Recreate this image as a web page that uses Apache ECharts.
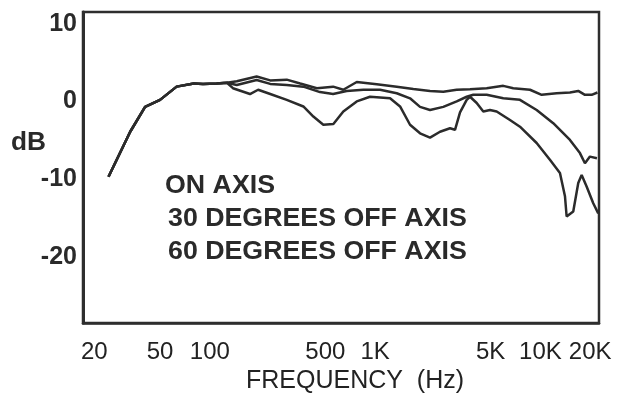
<!DOCTYPE html>
<html>
<head>
<meta charset="utf-8">
<script src="https://cdn.jsdelivr.net/npm/echarts@6/dist/echarts.min.js"></script>
<style>
html,body{margin:0;padding:0;background:#fff;}
#chart{width:633px;height:398px;}
</style>
</head>
<body>
<div id="chart"></div>
<script>
// Shared low-frequency part (all three curves coincide)
var commonFreq = [24.4, 33, 40.6, 50, 63, 80, 91, 110, 127];
var commonDb   = [-9.7, -3.9, -0.7, 0.2, 1.9, 2.3, 2.25, 2.3, 2.4];

// ON AXIS
var onFreq = [145.6, 192, 232, 292, 352, 444, 557, 642, 774, 1023, 1351, 1702, 2148, 2584, 3114, 3749, 4728, 5960, 6849, 8644, 10170, 12530, 15080, 16930, 18580, 20400, 22120];
var onDb   = [2.6, 3.2, 2.7, 2.8, 2.3, 1.7, 1.9, 1.5, 2.5, 2.2, 1.9, 1.6, 1.35, 1.25, 1.5, 1.55, 1.7, 2.0, 1.7, 1.5, 0.85, 1.05, 1.15, 1.35, 0.85, 0.85, 1.15];

// 30 DEGREES OFF AXIS
var off30Freq = [145.6, 192, 232, 292, 368, 464, 557, 673, 849, 1071, 1351, 1626, 1869, 2148, 2584, 3114, 3579, 3924, 4728, 5960, 7516, 9484, 11950, 15080, 17330, 18580, 19920, 21960];
var off30Db   = [2.1, 2.75, 2.25, 2.1, 1.9, 1.2, 0.95, 1.35, 1.5, 1.5, 1.05, 0.4, -0.7, -1.1, -0.7, 0, 0.6, 0.85, 0.85, 0.4, 0.2, -1.1, -2.8, -4.95, -6.65, -7.95, -7.1, -7.3];

// 60 DEGREES OFF AXIS
var off60Freq = [138, 175, 196, 232, 292, 368, 423, 486, 559, 642, 774, 931, 1231, 1415, 1626, 1869, 2148, 2469, 2837, 3042, 3262, 3579, 3749, 4115, 4510, 4951, 5435, 6540, 7516, 9484, 11410, 13120, 14070, 14400, 15790, 16930, 17750, 19020, 20860, 22360];
var off60Db   = [1.7, 0.95, 1.5, 0.95, 0.2, -0.65, -1.95, -3.0, -2.9, -1.3, 0, 0.6, 0.4, -0.65, -3.0, -4.1, -4.65, -3.9, -3.45, -3.65, -1.4, 0.2, 0.6, -0.2, -1.3, -1.1, -1.3, -2.4, -3.25, -5.35, -7.5, -9.2, -12.2, -14.8, -14.15, -10.5, -9.45, -10.95, -13.1, -14.4];

var xTicks = [20, 50, 100, 500, 1000, 5000, 10000, 20000];
var xTickLabels = ['20', '50', '100', '500', '1K', '5K', '10K', '20K'];
var yTicks = [-20, -10, 0, 10];
var legendTexts = ['ON AXIS', '30 DEGREES OFF AXIS', '60 DEGREES OFF AXIS'];

function pairs(f, d) {
  var out = [];
  for (var i = 0; i < commonFreq.length; i++) out.push([commonFreq[i], commonDb[i]]);
  for (var j = 0; j < f.length; j++) out.push([f[j], d[j]]);
  return out;
}

var lineColor = '#2b2b2b';
var FONT = '"Liberation Sans", Arial, sans-serif';

function series(name, f, d) {
  return {
    name: name, type: 'line', data: pairs(f, d), showSymbol: false, symbol: 'none',
    lineStyle: { color: lineColor, width: 2.5 }, smooth: false, silent: true, animation: false
  };
}

var chart = echarts.init(document.getElementById('chart'), null, { renderer: 'canvas' });
chart.setOption({
  backgroundColor: '#ffffff',
  animation: false,
  grid: { left: 83, top: 12, right: 34, bottom: 75, show: true, borderColor: '#2e2e2e', borderWidth: 2.5, containLabel: false, outerBoundsMode: 'none' },
  xAxis: {
    type: 'log', logBase: 10, min: 17.1, max: 22600,
    axisLine: { show: true, onZero: false, lineStyle: { color: '#2e2e2e', width: 2.5 } },
    axisTick: { show: false },
    splitLine: { show: false },
    axisLabel: {
      customValues: xTicks,
      margin: 17,
      color: '#222', fontSize: 24, fontFamily: FONT,
      formatter: function (v) {
        for (var i = 0; i < xTicks.length; i++) if (Math.abs(xTicks[i] - v) / xTicks[i] < 1e-6) return xTickLabels[i];
        return '';
      }
    },
    name: 'FREQUENCY  (Hz)', nameLocation: 'middle', nameGap: 45,
    nameTextStyle: { color: '#222', fontSize: 25, fontFamily: FONT, padding: [0, 0, 0, 28] }
  },
  yAxis: {
    type: 'value', min: -28.5, max: 11.5,
    axisLine: { show: true, onZero: false, lineStyle: { color: '#2e2e2e', width: 3 } },
    axisTick: { show: false },
    splitLine: { show: false },
    axisLabel: {
      customValues: yTicks,
      margin: 6,
      color: '#2a2a2a', fontSize: 25, fontWeight: 'bold', fontFamily: FONT
    }
  },
  series: [
    series(legendTexts[0], onFreq, onDb),
    series(legendTexts[1], off30Freq, off30Db),
    series(legendTexts[2], off60Freq, off60Db)
  ],
  graphic: [
    { type: 'text', x: 11, y: 143, scaleX: 1.05, style: { text: 'dB', font: 'bold 25px ' + FONT, fill: '#2a2a2a', verticalAlign: 'middle' } },
    { type: 'text', x: 165, y: 186, scaleX: 1.07, style: { text: legendTexts[0], font: 'bold 25px ' + FONT, fill: '#2a2a2a', verticalAlign: 'middle' } },
    { type: 'text', x: 168, y: 219, scaleX: 1.07, style: { text: legendTexts[1], font: 'bold 25px ' + FONT, fill: '#2a2a2a', verticalAlign: 'middle' } },
    { type: 'text', x: 168, y: 252, scaleX: 1.07, style: { text: legendTexts[2], font: 'bold 25px ' + FONT, fill: '#2a2a2a', verticalAlign: 'middle' } }
  ]
});
</script>
</body>
</html>
